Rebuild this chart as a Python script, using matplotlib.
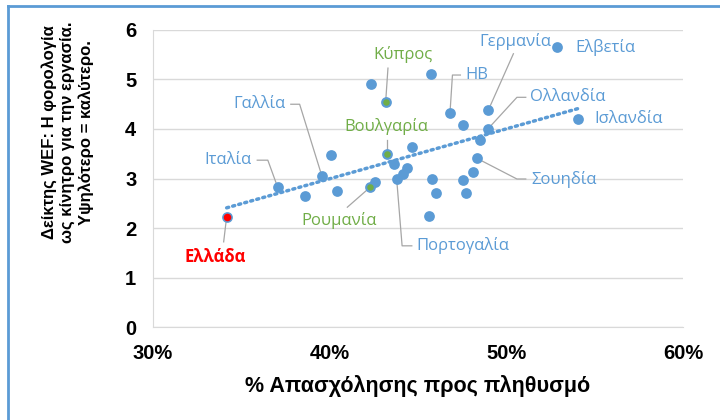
import numpy as np
import matplotlib.pyplot as plt
from matplotlib.lines import Line2D

# employment rate (% of population) vs WEF tax incentive index
emp = [34.17, 37.06, 38.60, 39.56, 40.09, 40.43, 42.34, 43.17, 43.23, 42.28,
       42.56, 43.64, 44.36, 44.17, 43.79, 44.64, 45.72, 46.81, 47.56, 48.98,
       48.98, 48.51, 48.32, 48.13, 47.52, 45.81, 46.00, 47.70, 45.62, 52.85,
       54.07]
wef = [2.23, 2.82, 2.65, 3.05, 3.47, 2.75, 4.91, 4.55, 3.49, 2.82,
       2.92, 3.29, 3.21, 3.10, 3.00, 3.64, 5.12, 4.32, 4.08, 4.38,
       4.01, 3.78, 3.41, 3.14, 2.97, 2.99, 2.71, 2.71, 2.25, 5.66,
       4.20]
names = ["Ελλάδα", "Ιταλία", "", "Γαλλία", "", "", "", "Κύπρος", "Βουλγαρία", "Ρουμανία",
         "", "", "", "", "Πορτογαλία", "", "", "ΗΒ", "", "Γερμανία",
         "Ολλανδία", "", "Σουηδία", "", "", "", "", "", "", "Ελβετία",
         "Ισλανδία"]
green = ["Κύπρος", "Βουλγαρία", "Ρουμανία"]
red = ["Ελλάδα"]

# label placement: text position, alignment, leader path (data coords)
labels = {
    "Ελλάδα": ((33.5, 1.42), "center", [(34.0, 1.72)]),
    "Ιταλία": ((35.6, 3.37), "right", [(35.9, 3.37), (36.5, 3.37)]),
    "Γαλλία": ((37.5, 4.5), "right", [(37.8, 4.5), (38.3, 4.5)]),
    "Κύπρος": ((44.15, 5.50), "center", [(43.3, 5.23)]),
    "Βουλγαρία": ((43.23, 4.06), "center", [(43.23, 3.78)]),
    "Ρουμανία": ((40.54, 2.16), "center", [(41.0, 2.42)]),
    "Πορτογαλία": ((44.9, 1.64), "left", [(44.65, 1.64), (44.1, 1.64)]),
    "ΗΒ": ((47.7, 5.09), "left", [(47.4, 5.09), (46.95, 5.09)]),
    "Γερμανία": ((50.5, 5.76), "center", [(50.4, 5.52)]),
    "Ολλανδία": ((51.35, 4.64), "left", [(51.1, 4.64), (50.6, 4.64)]),
    "Σουηδία": ((51.4, 2.97), "left", [(51.1, 2.99), (50.6, 2.99)]),
    "Ελβετία": ((53.9, 5.64), "left", []),
    "Ισλανδία": ((55.0, 4.20), "left", []),
}

blue = "#5B9BD5"
grn = "#70AD47"
lbl_font = ["Open Sans", "DejaVu Sans"]

fig = plt.figure(figsize=(7.2, 4.2), dpi=100)
ax = fig.add_axes([0.2125, 0.2214, 0.7361, 0.7072])

ax.scatter(emp, wef, s=60, color=blue, zorder=3, linewidths=0)
for x, y, n in zip(emp, wef, names):
    if n in green:
        ax.scatter([x], [y], s=22, color=grn, zorder=4, linewidths=0)
    if n in red:
        ax.scatter([x], [y], s=30, color="red", zorder=4, linewidths=0)

# linear trendline
k, b = np.polyfit(emp, wef, 1)
tx = np.array([min(emp), max(emp)])
ax.plot(tx, k * tx + b, color=blue, lw=2.5, linestyle=(0, (0.6, 1.2)),
        dash_capstyle="round", zorder=2)

for x, y, n in zip(emp, wef, names):
    if n not in labels:
        continue
    (lx, ly), ha, path = labels[n]
    col = grn if n in green else ("red" if n in red else blue)
    ax.text(lx, ly, n, ha=ha, va="center", color=col, fontsize=12,
            family=lbl_font, fontweight="bold" if n in red else "normal", zorder=5)
    if path:
        px = [p[0] for p in path] + [x]
        py = [p[1] for p in path] + [y]
        ax.plot(px, py, color="#A6A6A6", lw=0.9, zorder=2)

ax.set_xlim(30, 60)
ax.set_ylim(0, 6)
ax.set_xticks([30, 40, 50, 60])
ax.set_xticklabels(["30%", "40%", "50%", "60%"])
ax.set_yticks(range(7))
ax.yaxis.grid(True, color="#D9D9D9", lw=1)
ax.set_axisbelow(True)
for s in ["top", "right"]:
    ax.spines[s].set_visible(False)
for s in ["left", "bottom"]:
    ax.spines[s].set_color("#D9D9D9")
ax.tick_params(length=0, labelsize=14.5)
ax.tick_params(axis="x", pad=12)
ax.tick_params(axis="y", pad=12)
for t in ax.get_xticklabels() + ax.get_yticklabels():
    t.set_fontweight("bold")
    t.set_family("Liberation Sans")

ax.set_xlabel("% Απασχόλησης προς πληθυσμό", fontsize=15.5, fontweight="bold",
              family="Liberation Sans", labelpad=9)
ax.set_ylabel("Δείκτης WEF: Η φορολογία\nως κίνητρο για την εργασία.\nΥψηλότερο = καλύτερο.",
              fontsize=12, fontweight="bold", family="Liberation Sans",
              linespacing=1.25, va="center")
ax.yaxis.set_label_coords(-0.162, 0.655)

# frame (left and top edges)
fig.add_artist(Line2D([8 / 720, 8 / 720], [0, 1 - 6 / 420], color=blue, lw=2))
fig.add_artist(Line2D([8 / 720, 1], [1 - 6 / 420, 1 - 6 / 420], color=blue, lw=2))

fig.savefig("out.png", dpi=100)
